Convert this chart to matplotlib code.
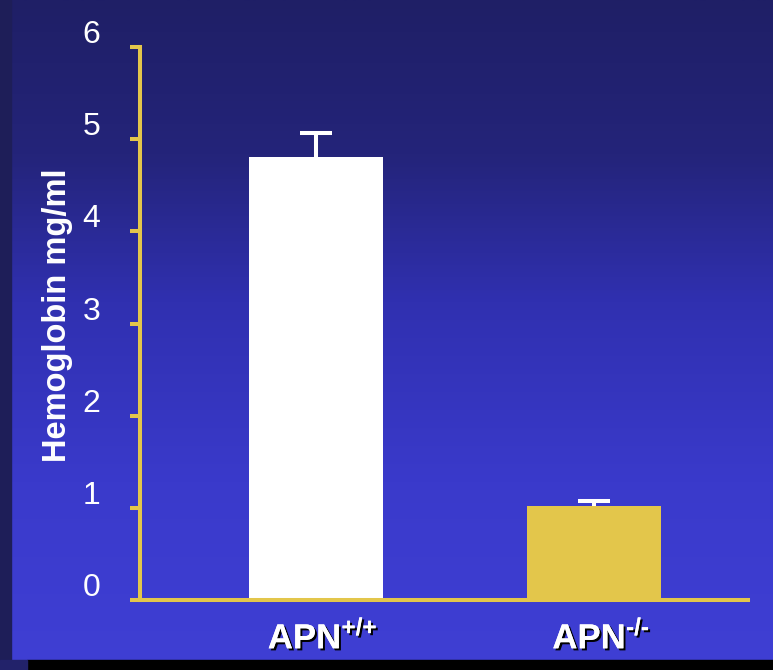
import numpy as np
import matplotlib
matplotlib.use("Agg")
import matplotlib.pyplot as plt
import matplotlib.patheffects as pe
from matplotlib.colors import LinearSegmentedColormap
from matplotlib.patches import Rectangle
from matplotlib.transforms import ScaledTranslation

plt.rcParams['font.family'] = ['Liberation Sans', 'DejaVu Sans']
plt.rcParams['mathtext.fontset'] = 'custom'
plt.rcParams['mathtext.rm'] = 'Liberation Sans:bold'
plt.rcParams['mathtext.bf'] = 'Liberation Sans:bold'

# data
groups = [r'APN$^{\text{+/+}}$', r'APN$^{\text{-/-}}$']
hemoglobin = [4.81, 1.02]
sem = [0.26, 0.05]
bar_colors = ['white', '#e3c64b']
yticks = [0, 1, 2, 3, 4, 5, 6]

gold = '#e3c64b'

fig = plt.figure(figsize=(7.73, 6.70), dpi=100)

# slide background: vertical blue gradient
bg = fig.add_axes([0, 0, 1, 1], zorder=-10)
bg_cmap = LinearSegmentedColormap.from_list(
    'slide', [(0.0, '#1f1f66'), (0.23, '#24247a'), (0.45, '#3030b0'),
              (0.72, '#3a3acb'), (1.0, '#3f3fd4')])
grad = np.linspace(0, 1, 256).reshape(-1, 1)
bg.imshow(grad, aspect='auto', cmap=bg_cmap, extent=[0, 1, 0, 1], origin='upper')
bg.add_patch(Rectangle((0, 0), 11 / 773, 1, color='#1e1e58', zorder=2))
bg.add_patch(Rectangle((27 / 773, 0), 1, 10 / 670, color='black', zorder=3))
bg.add_patch(Rectangle((0, 0), 27 / 773, 10 / 670, color='#22226a', zorder=3))
bg.set_xlim(0, 1)
bg.set_ylim(0, 1)
bg.axis('off')

ax = fig.add_axes([140 / 773, 70 / 670, 608 / 773, 553 / 670])
ax.set_facecolor('none')

x = np.arange(len(groups))
ax.bar(x, hemoglobin, width=0.48, color=bar_colors, zorder=2)
eb = ax.errorbar(x, hemoglobin, yerr=[np.zeros(len(sem)), sem], fmt='none',
                 ecolor='white', elinewidth=2.9, capsize=11.5, capthick=2.9, zorder=1)
# keep only the upper caps
for cap in eb[1]:
    if np.allclose(cap.get_ydata(), hemoglobin):
        cap.set_visible(False)

ax.set_xlim(-0.631, 1.552)
ax.set_ylim(0, 6)
ax.set_yticks(yticks)
ax.set_xticks(x)
ax.set_xticklabels(groups)

for s in ['top', 'right']:
    ax.spines[s].set_visible(False)
for s in ['left', 'bottom']:
    ax.spines[s].set_color(gold)
    ax.spines[s].set_linewidth(2.9)
    ax.spines[s].set_zorder(3)

ax.tick_params(axis='y', direction='out', length=7.5, width=2.9, color=gold,
               labelcolor='white', labelsize=23, pad=21)
ax.tick_params(axis='x', length=0, labelcolor='white', labelsize=25, pad=14)

offset = ScaledTranslation(0, 0.04, fig.dpi_scale_trans)
for lab in ax.get_yticklabels():
    lab.set_va('baseline')
    lab.set_transform(lab.get_transform() + offset)

xoff = ScaledTranslation(0.07, 0, fig.dpi_scale_trans)
for lab in ax.get_xticklabels():
    lab.set_fontweight('bold')
    lab.set_transform(lab.get_transform() + xoff)
    lab.set_path_effects([pe.withSimplePatchShadow(offset=(1.5, -1.5),
                                                   shadow_rgbFace='black', alpha=1.0),
                          pe.Normal()])

ax.set_ylabel('Hemoglobin mg/ml', color='white', fontsize=23.5, fontweight='bold')
ax.yaxis.set_label_coords(-0.11, 0.515)

fig.savefig('out.png', dpi=100)
